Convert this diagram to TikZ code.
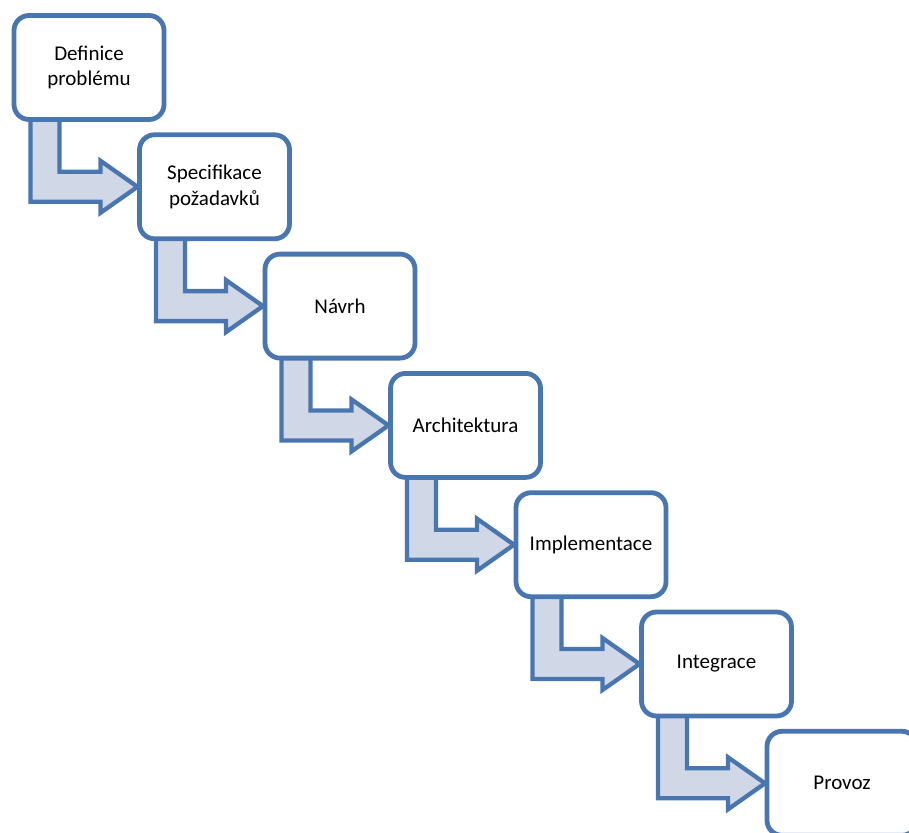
\documentclass[tikz,border=0pt]{standalone}
\usepackage{fontspec}
\setmainfont{Carlito}
\usepackage{xcolor}
\usepackage{tikz}
\usetikzlibrary{calc,backgrounds}

\definecolor{stepline}{RGB}{74,118,176}
\definecolor{stepfill}{RGB}{208,216,232}

\tikzset{
  phase/.style={draw=stepline, line width=4.8pt, fill=white, rounded corners=15pt,
    minimum width=150pt, minimum height=104pt, outer sep=0pt, align=center,
    font=\fontsize{21}{25.5}\selectfont},
  flowarrow/.style={draw=stepline, line width=4.3pt, fill=stepfill, line join=miter}
}

\begin{document}
\begin{tikzpicture}[x=1pt,y=1pt]
 \useasboundingbox (0,0) rectangle (909,-832);
 \clip (0,0) rectangle (909,-832);

 \node [phase] (definice)   at ( 89.0, -67.5) {Definice\\problému};
 \node [phase] (specifikace) at (214.5,-186.8) {Specifikace\\požadavků};
 \node [phase] (navrh)      at (340.0,-306.1) {Návrh};
 \node [phase] (architektura) at (465.5,-425.4) {Architektura};
 \node [phase] (implementace) at (591.0,-544.7) {Implementace};
 \node [phase] (integrace)  at (716.5,-664.0) {Integrace};
 \node [phase] (provoz)     at (842.0,-783.3) {Provoz};

 % bent arrows, drawn behind the boxes
 \begin{scope}[on background layer]
  \foreach \a/\b in {definice/specifikace, specifikace/navrh, navrh/architektura,
                     architektura/implementace, implementace/integrace, integrace/provoz}
   \draw [flowarrow] let \p1=(\a.south west), \p2=(\b.west) in
     (\x1+16.5pt,\y1+2pt) -- (\x1+16.5pt,\y2-15pt) -- (\x2-39pt,\y2-15pt)
     -- (\x2-39pt,\y2-26pt) -- (\x2-2pt,\y2) -- (\x2-39pt,\y2+26pt)
     -- (\x2-39pt,\y2+15pt) -- (\x1+45.5pt,\y2+15pt) -- (\x1+45.5pt,\y1+2pt) -- cycle;
 \end{scope}
\end{tikzpicture}
\end{document}
